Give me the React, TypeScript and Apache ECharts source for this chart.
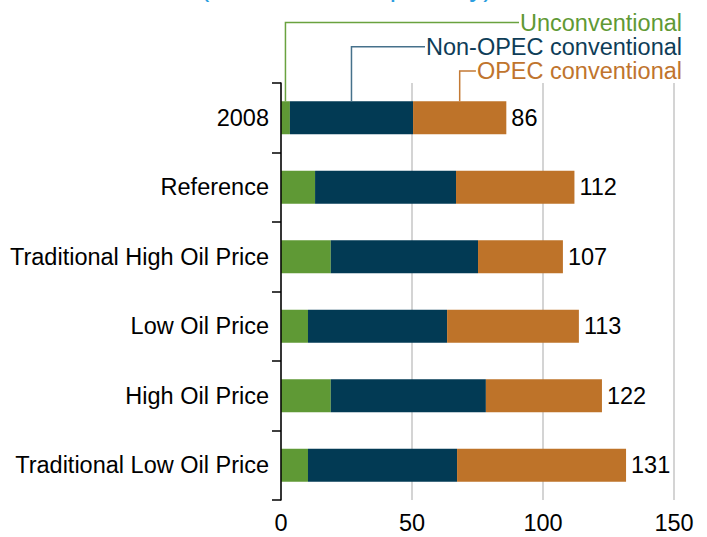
import React, { useEffect, useRef } from 'react';
import * as echarts from 'echarts';

const categories = [
  '2008',
  'Reference',
  'Traditional High Oil Price',
  'Low Oil Price',
  'High Oil Price',
  'Traditional Low Oil Price',
];
const unconventional = [3.4, 13, 19, 10.3, 19, 10.3];
const nonOpec = [47, 53.8, 56.2, 53.1, 59.2, 56.9];
const opec = [35.6, 45.2, 32.4, 50.3, 44.3, 64.5];
const totals = [86, 112, 107, 113, 122, 131];
const xTicks = [0, 50, 100, 150];
const seriesNames = ['Unconventional', 'Non-OPEC conventional', 'OPEC conventional'];
const titleText = '(million barrels per day)';

const FONT = '"Liberation Sans", Arial, sans-serif';
const FS = 23.5;
const COLORS = ['#5F9935', '#023A54', '#BE7329'];
const LEGEND_TEXT = ['#5F9935', '#0E3D58', '#C0742D'];
const LEGEND_LINE = ['#6AA23F', '#46718B', '#C47A35'];
const BAR_W = 33;

function measure(text: string, size: number) {
  const c = document.createElement('canvas').getContext('2d');
  if (!c) return text.length * size * 0.55;
  c.font = `${size}px "Liberation Sans", Arial, sans-serif`;
  return c.measureText(text).width;
}

export default function App() {
  const ref = useRef<HTMLDivElement>(null);
  useEffect(() => {
    if (!ref.current) return;
    const chart = echarts.init(ref.current, undefined, { renderer: 'svg' });
    const mkSeries = (name: string, data: number[], i: number) => ({
      name,
      type: 'bar',
      stack: 'total',
      data,
      barWidth: BAR_W,
      itemStyle: { color: COLORS[i] },
      label:
        i === 2
          ? {
              show: true,
              position: 'right',
              distance: 5,
              color: '#000',
              fontSize: FS,
              fontFamily: FONT,
              formatter: (p: any) => String(totals[p.dataIndex]),
            }
          : { show: false },
    });
    chart.setOption({
      animation: false,
      textStyle: { fontFamily: FONT },
      grid: { left: 281, right: 33, top: 83, bottom: 37 },
      xAxis: {
        type: 'value',
        min: xTicks[0],
        max: xTicks[xTicks.length - 1],
        interval: 50,
        axisLine: { show: false },
        axisTick: { show: false },
        axisLabel: { fontSize: FS, color: '#000', margin: 11, fontFamily: FONT },
        splitLine: { show: true, lineStyle: { color: '#C6C6C6', width: 1.5 } },
      },
      yAxis: {
        type: 'category',
        data: categories,
        inverse: true,
        axisLine: { show: true, lineStyle: { color: '#000', width: 1.5 } },
        axisTick: { show: true, length: 9, lineStyle: { color: '#000', width: 1.5 } },
        axisLabel: { fontSize: FS, color: '#000', margin: 12, fontFamily: FONT },
        z: 10,
      },
      series: [
        mkSeries(seriesNames[0], unconventional, 0),
        mkSeries(seriesNames[1], nonOpec, 1),
        mkSeries(seriesNames[2], opec, 2),
      ],
    });

    const cy = chart.convertToPixel({ gridIndex: 0 }, [0, 0])[1];
    const barTop = cy - BAR_W / 2;
    const mids = [
      unconventional[0] / 2,
      unconventional[0] + nonOpec[0] / 2,
      unconventional[0] + nonOpec[0] + opec[0] / 2,
    ];
    const xs = mids.map((v) => chart.convertToPixel({ gridIndex: 0 }, [v, 0])[0]);
    const textRight = 682;
    const ys = [22.5, 46.7, 70.9];
    const graphics: any[] = [];
    seriesNames.forEach((name, i) => {
      const w = measure(name, FS);
      const left = textRight - w - 1;
      graphics.push({
        type: 'polyline',
        shape: { points: [[xs[i], barTop], [xs[i], ys[i]], [left, ys[i]]] },
        style: { stroke: LEGEND_LINE[i], lineWidth: 1.5, fill: 'none' },
        z: 20,
      });
      graphics.push({
        type: 'text',
        x: textRight,
        y: ys[i],
        style: {
          text: name,
          fill: LEGEND_TEXT[i],
          font: `${FS}px ${FONT}`,
          align: 'right',
          verticalAlign: 'middle',
          textAlign: 'right',
          textVerticalAlign: 'middle',
        },
        z: 20,
      });
    });
    graphics.push({
      type: 'text',
      x: 200,
      y: -14,
      style: {
        text: titleText,
        fill: '#2E9FE0',
        font: `28px ${FONT}`,
        align: 'left',
        verticalAlign: 'middle',
        textAlign: 'left',
        textVerticalAlign: 'middle',
      },
    });
    chart.setOption({ graphic: graphics });
    return () => chart.dispose();
  }, []);
  return (
    <div
      ref={ref}
      style={{ position: 'fixed', left: 0, top: 0, width: 707, height: 537, background: '#fff' }}
    />
  );
}
